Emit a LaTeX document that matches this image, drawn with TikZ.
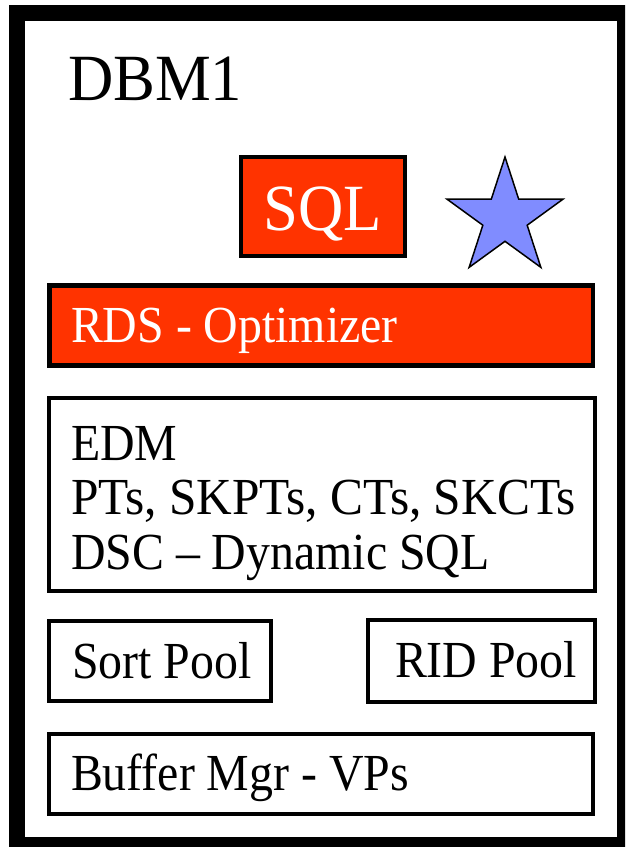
\documentclass[tikz,border=0pt]{standalone}
\usepackage{fontspec}
\setmainfont{Liberation Serif}
\usetikzlibrary{shapes.geometric}
\definecolor{sqlred}{RGB}{255,51,0}
\definecolor{starblue}{RGB}{128,140,255}
\newcommand{\narrowtxt}[2][0.92]{\scalebox{#1}[1]{#2}}
\begin{document}
\begin{tikzpicture}[x=1pt,y=-1pt,
  box/.style={draw=black, line width=4.5pt, rectangle, inner sep=0pt, outer sep=0pt, anchor=north west},
  redbox/.style={box, fill=sqlred},
  lbl/.style={inner sep=0pt, outer sep=0pt, anchor=base west, font=\fontsize{52}{54.5}\selectfont},
  big/.style={inner sep=0pt, outer sep=0pt, font=\fontsize{66}{70}\selectfont}]
\useasboundingbox (0,0) rectangle (625,847);
\clip (0,0) rectangle (625,847);
\fill[white] (0,0) rectangle (625,847);
\draw[line width=16pt] (17,13) rectangle (625,845);

\node[redbox, minimum width=164pt, minimum height=99pt] (sqlbox) at (241,157) {};
\node[redbox, minimum width=543.5pt, minimum height=80pt] (rdsbox) at (49.5,285.5) {};
\node[box, minimum width=546pt, minimum height=193pt] (edmbox) at (49,398) {};
\node[box, minimum width=222pt, minimum height=80pt] (sortbox) at (49,621) {};
\node[box, minimum width=227pt, minimum height=82pt] (ridbox) at (368,620) {};
\node[box, minimum width=544pt, minimum height=80pt] (bufbox) at (49,734) {};

\node[star, star points=5, star point ratio=2.618, minimum size=122pt, inner sep=0pt,
      draw=black, line width=1.5pt, fill=starblue] (star) at (505,218) {};

\node[big, anchor=base west] (dbm) at (68,100) {\narrowtxt[0.95]{DBM1}};
\node[big, anchor=base, text=white] (sql) at (323,230) {\narrowtxt[0.95]{SQL}};
\node[lbl, text=white] (rds) at (71,342) {\narrowtxt{RDS - Optimizer}};
\node[lbl] (edm) at (71,460) {\narrowtxt{EDM}};
\node[lbl] (pts) at (71,514.5) {\narrowtxt[0.95]{PTs, SKPTs, CTs, SKCTs}};
\node[lbl] (dsc) at (71,569) {\narrowtxt{DSC – Dynamic SQL}};
\node[lbl] (sort) at (72,678) {\narrowtxt{Sort Pool}};
\node[lbl] (rid) at (395,677) {\narrowtxt{RID Pool}};
\node[lbl] (buf) at (71,790) {\narrowtxt{Buffer Mgr - VPs}};
\end{tikzpicture}
\end{document}
